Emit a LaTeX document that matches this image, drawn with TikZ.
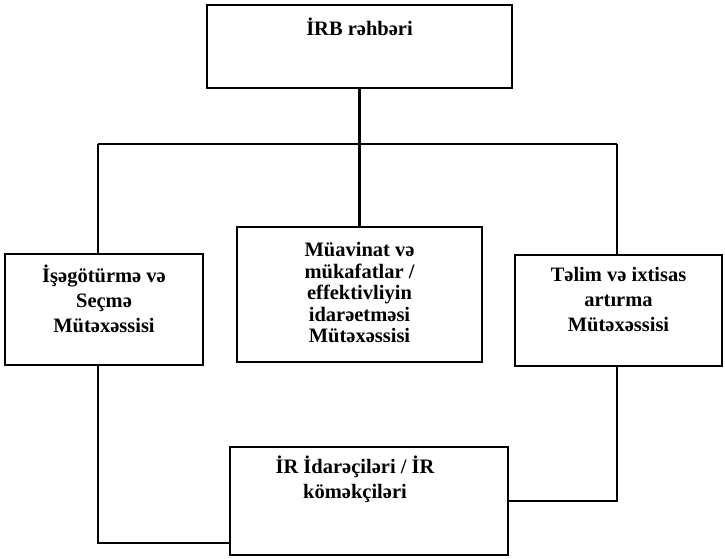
\documentclass[tikz,border=0pt]{standalone}
\usepackage{fontspec}
\setmainfont{Liberation Serif}
\begin{document}
\begin{tikzpicture}[x=1pt,y=-1pt,
  box/.style={draw,line width=2.2pt,rectangle,inner sep=0pt},
  lbl/.style={align=center,inner sep=0pt,font=\bfseries\fontsize{20.5}{25}\selectfont},
  lblmid/.style={lbl,font=\bfseries\fontsize{20.5}{21.5}\selectfont},
  wire/.style={line width=2.2pt}]
\useasboundingbox (0,0) rectangle (725,559);

% boxes
\node[box,minimum width=305pt,minimum height=83pt] (top) at (359.5,46.5) {};
\node[box,minimum width=198pt,minimum height=111pt] (left) at (104,309.5) {};
\node[box,minimum width=245pt,minimum height=135pt] (mid) at (359.5,294.5) {};
\node[box,minimum width=207pt,minimum height=111pt] (right) at (618.5,310.5) {};
\node[box,minimum width=278pt,minimum height=108pt] (bot) at (369,501) {};

% captions
\node[lbl] (toptxt) at (359.5,27) {İRB rəhbəri};
\node[lbl] (lefttxt) at (104,299) {İşəgötürmə və\\Seçmə\\Mütəxəssisi};
\node[lblmid] (midtxt) at (359.5,293) {Müavinat və\\mükafatlar /\\effektivliyin\\idarəetməsi\\Mütəxəssisi};
\node[lbl] (righttxt) at (618.5,300) {Təlim və ixtisas\\artırma\\Mütəxəssisi};
\node[lbl] (bottxt) at (355,479) {İR İdarəçiləri / İR\\köməkçiləri};

% bus under the head box
\coordinate (bl) at (98,144);
\coordinate (br) at (617,144);
\coordinate (lc) at (98,543);
\coordinate (rc) at (617,501);

\draw[wire] (top.south) -- (top.south |- bl);
\draw[wire] (bl) -- (br);
\draw[wire] (top.south |- bl) -- (mid.north);
\draw[wire] (bl) -- (bl |- left.north);
\draw[wire] (br) -- (br |- right.north);

% links to the bottom box
\draw[wire] (bl |- left.south) -- (lc) -- (lc -| bot.west);
\draw[wire] (br |- right.south) -- (rc) -- (rc -| bot.east);
\end{tikzpicture}
\end{document}
